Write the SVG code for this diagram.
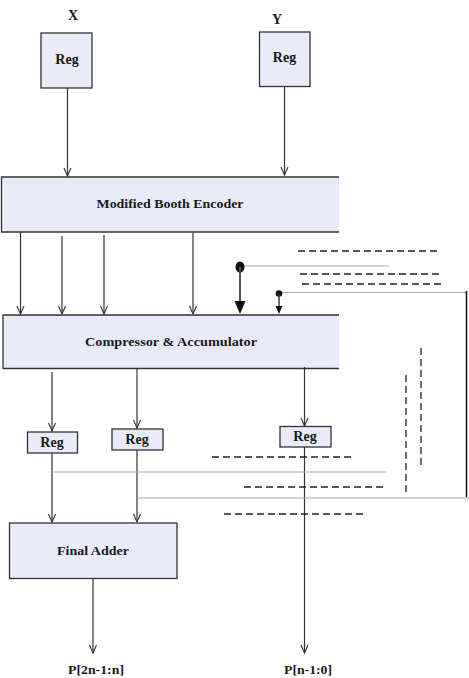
<svg xmlns="http://www.w3.org/2000/svg" width="469" height="678" viewBox="0 0 469 678">
<defs>
<style>
.box{fill:#e9ecf8;stroke:#333;stroke-width:1.3}
.fill{fill:#e9ecf8;stroke:none}
.edge{stroke:#333;stroke-width:1.3;fill:none}
.wire{stroke:#333;stroke-width:1.2;fill:none}
.gray{stroke:#aaa;stroke-width:1.2;fill:none}
.dash{stroke:#222;stroke-width:1.3;fill:none;stroke-dasharray:7,4}
.lbl{font-family:"Liberation Serif",serif;font-weight:bold;fill:#1a1a1a;text-anchor:middle}
</style>
<marker id="open" markerWidth="10" markerHeight="10" viewBox="0 0 10 10" refX="9" refY="5" orient="auto" markerUnits="userSpaceOnUse">
<path d="M1,1.5 L9,5 L1,8.5" fill="none" stroke="#333" stroke-width="1.1"/>
</marker>
</defs>
<text class="lbl" x="73" y="20" font-size="14">X</text>
<text class="lbl" x="277" y="24" font-size="14">Y</text>
<g id="regX"><rect class="box" x="41" y="33" width="51" height="55"/><text class="lbl" x="67" y="64" font-size="14">Reg</text></g>
<g id="regY"><rect class="box" x="259.5" y="32" width="50.5" height="54.5"/><text class="lbl" x="284.5" y="62" font-size="14">Reg</text></g>
<g id="booth"><rect class="fill" x="1.5" y="177" width="337.5" height="55"/><path class="edge" d="M339,177 H1.5 V232 H339"/><text class="lbl" x="170" y="208" font-size="13" textLength="147" lengthAdjust="spacingAndGlyphs">Modified Booth Encoder</text></g>
<g id="compressor"><rect class="fill" x="3" y="315" width="336" height="53.5"/><path class="edge" d="M339,315 H3 V368.5 H339"/><text class="lbl" x="171" y="346" font-size="13" textLength="172" lengthAdjust="spacingAndGlyphs">Compressor &amp; Accumulator</text></g>
<g id="reg1"><rect class="box" x="27.5" y="432" width="50" height="21"/><text class="lbl" x="52" y="447" font-size="14">Reg</text></g>
<g id="reg2"><rect class="box" x="112" y="429" width="51" height="21"/><text class="lbl" x="137" y="444" font-size="14">Reg</text></g>
<g id="reg3"><rect class="box" x="280" y="426.5" width="51" height="20.5"/><text class="lbl" x="305" y="441" font-size="14">Reg</text></g>
<g id="adder"><rect class="box" x="9.5" y="523" width="167.5" height="55.5"/><text class="lbl" x="93" y="555" font-size="13" textLength="72" lengthAdjust="spacingAndGlyphs">Final Adder</text></g>
<text class="lbl" x="96" y="674" font-size="13" textLength="56" lengthAdjust="spacingAndGlyphs">P[2n-1:n]</text>
<text class="lbl" x="308" y="674" font-size="13" textLength="48" lengthAdjust="spacingAndGlyphs">P[n-1:0]</text>
<g id="connectors">
<line class="wire" x1="67.5" y1="88" x2="67.5" y2="176" marker-end="url(#open)"/>
<line class="wire" x1="284.5" y1="86.5" x2="284.5" y2="175" marker-end="url(#open)"/>
<line class="wire" x1="20.5" y1="232" x2="20.5" y2="314" marker-end="url(#open)"/>
<line class="wire" x1="62" y1="236" x2="62" y2="314" marker-end="url(#open)"/>
<line class="wire" x1="104" y1="235" x2="104" y2="314" marker-end="url(#open)"/>
<line class="wire" x1="193" y1="233" x2="193" y2="314" marker-end="url(#open)"/>
<line class="gray" x1="240" y1="266" x2="389" y2="266"/>
<ellipse cx="240" cy="267" rx="4.5" ry="5.5" fill="#111"/>
<line x1="240" y1="267" x2="240" y2="302" stroke="#555" stroke-width="2"/>
<path d="M234.5,301 L245.5,301 L240,314 Z" fill="#111"/>
<line class="gray" x1="279" y1="292.5" x2="466.5" y2="292.5"/>
<circle cx="279" cy="293.5" r="3.3" fill="#111"/>
<line x1="279" y1="293.5" x2="279" y2="307" stroke="#333" stroke-width="1.4"/>
<path d="M275.5,306 L282.5,306 L279,314 Z" fill="#111"/>
<line x1="466.5" y1="291" x2="466.5" y2="497" stroke="#111" stroke-width="1.5"/>
<line class="dash" x1="298" y1="251" x2="440" y2="251"/>
<line class="dash" x1="300" y1="274" x2="442" y2="274"/>
<line class="dash" x1="302" y1="284" x2="444" y2="284"/>
<line class="dash" x1="421" y1="348" x2="421" y2="465"/>
<line class="dash" x1="406" y1="375" x2="406" y2="492"/>
<line class="wire" x1="52" y1="372" x2="52" y2="431" marker-end="url(#open)"/>
<line class="wire" x1="137" y1="369" x2="137" y2="428" marker-end="url(#open)"/>
<line class="wire" x1="304.5" y1="367" x2="304.5" y2="426" marker-end="url(#open)"/>
<line class="wire" x1="52" y1="453" x2="52" y2="522" marker-end="url(#open)"/>
<line class="wire" x1="137" y1="450" x2="137" y2="522" marker-end="url(#open)"/>
<line class="wire" x1="304.5" y1="447" x2="304.5" y2="653" marker-end="url(#open)"/>
<line class="wire" x1="93" y1="578.5" x2="93" y2="653" marker-end="url(#open)"/>
<line class="gray" x1="52" y1="472" x2="386" y2="472"/>
<line class="gray" x1="137" y1="498" x2="469" y2="498"/>
<line class="dash" x1="212" y1="457" x2="354" y2="457"/>
<line class="dash" x1="244" y1="487" x2="386" y2="487"/>
<line class="dash" x1="224" y1="514" x2="365" y2="514"/>
</g>
</svg>
